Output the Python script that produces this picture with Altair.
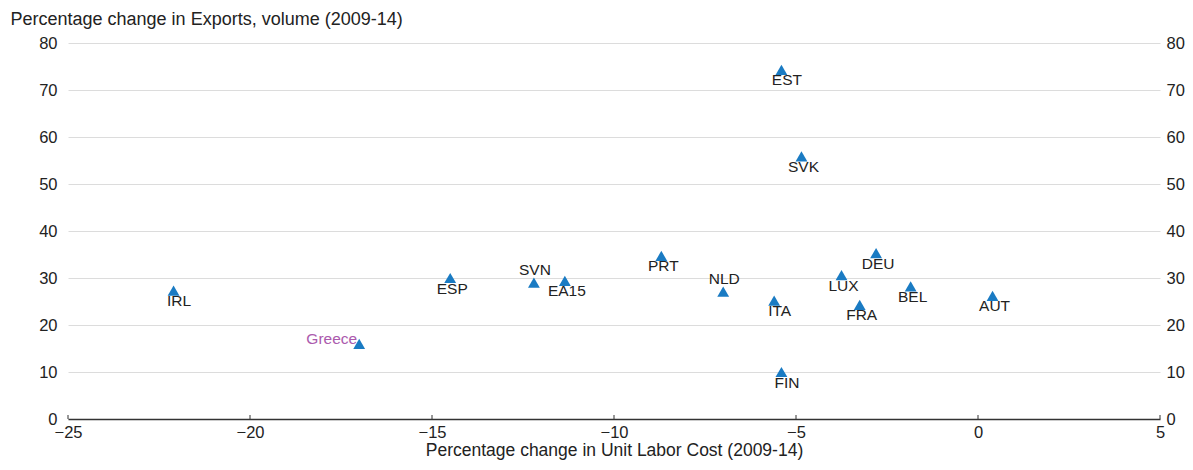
import altair as alt
import pandas as pd

# ---- data ----
countries = ["IRL", "Greece", "ESP", "SVN", "EA15", "PRT", "NLD", "ITA",
             "FIN", "EST", "SVK", "LUX", "FRA", "DEU", "BEL", "AUT"]
ulc = [-22.1, -17.0, -14.5, -12.2, -11.35, -8.7, -7.0, -5.6,
       -5.4, -5.4, -4.85, -3.75, -3.25, -2.8, -1.85, 0.4]
exports = [27.3, 16.0, 30.0, 29.0, 29.4, 34.7, 27.1, 25.2,
           10.0, 74.3, 55.9, 30.6, 24.3, 35.3, 28.2, 26.2]
placement = ["below-right", "left", "below", "above", "below", "below", "above", "below-right",
             "below-right", "below-right", "below", "below", "below", "below", "below", "below"]
x_ticks = [-25, -20, -15, -10, -5, 0, 5]
y_ticks = [0, 10, 20, 30, 40, 50, 60, 70, 80]

df = pd.DataFrame({"country": countries, "ulc": ulc, "exports": exports, "place": placement})
tick_df = pd.DataFrame({"ulc": x_ticks})

FONT = "Liberation Sans"
BLUE = "#1a7bc3"
PURPLE = "#ab5aad"
INK = "#222222"
W, H = 1092, 376

xscale = alt.Scale(domain=[-25, 5], nice=False, zero=False)
yscale = alt.Scale(domain=[0, 80], nice=False, zero=True)

x_axis = alt.Axis(
    values=x_ticks, title="Percentage change in Unit Labor Cost (2009-14)",
    grid=False, ticks=False, tickSize=0, domain=True, domainColor="#333333", domainWidth=1.5,
    labelFont=FONT, labelFontSize=16.5, labelColor=INK, labelPadding=5, labelFlush=False,
    labelOverlap=False,
    titleFont=FONT, titleFontSize=17.5, titleFontWeight="normal", titleColor=INK,
    titleBaseline="alphabetic", titleY=36,
)
X = alt.X("ulc:Q", scale=xscale, axis=x_axis)

y_left = alt.Axis(
    values=y_ticks, orient="left", title="Percentage change in Exports, volume (2009-14)",
    grid=True, gridColor="#dcdcdc", gridWidth=1, ticks=False, tickSize=0, domain=False,
    labelFont=FONT, labelFontSize=16.5, labelColor=INK, labelPadding=11, labelFlush=False,
    labelOverlap=False,
    titleFont=FONT, titleFontSize=18, titleFontWeight="normal", titleColor=INK,
    titleAngle=0, titleAlign="left", titleBaseline="alphabetic", titleX=-58, titleY=-19,
)
y_right = alt.Axis(
    values=y_ticks, orient="right", title="", grid=False, ticks=False, tickSize=0, domain=False,
    labelFont=FONT, labelFontSize=16.5, labelColor=INK, labelPadding=6, labelFlush=False,
    labelOverlap=False,
)

base = alt.Chart(df)

ticks = alt.Chart(tick_df).mark_rule(color="#333333", strokeWidth=1).encode(
    x=X, y=alt.value(H - 4), y2=alt.value(H)
)

points = base.mark_point(shape="triangle-up", filled=True, size=140, color=BLUE, opacity=1).encode(
    x=X, y=alt.Y("exports:Q", scale=yscale, axis=y_left)
)

right_axis = base.mark_point(opacity=0).encode(
    x=X, y=alt.Y("exports:Q", scale=yscale, axis=y_right)
)


def labels(place, color, align, dx, dy):
    return base.transform_filter(alt.datum.place == place).mark_text(
        font=FONT, fontSize=15.5, color=color, align=align, baseline="alphabetic", dx=dx, dy=dy
    ).encode(
        x=X, y=alt.Y("exports:Q", scale=yscale, axis=None), text="country:N"
    )


chart = alt.layer(
    ticks,
    points,
    right_axis,
    labels("below", INK, "center", 2, 15.5),
    labels("below-right", INK, "center", 5.5, 15.5),
    labels("above", INK, "center", 1, -8),
    labels("left", PURPLE, "right", -2, 0),
).resolve_scale(y="shared").resolve_axis(y="independent").properties(
    width=W, height=H,
    padding={"left": 60, "top": 35, "right": 25, "bottom": 43},
    autosize=alt.AutoSizeParams(type="none"),
).configure_view(stroke=None)

chart.save("out.html", embed_options={"renderer": "svg", "actions": False})
